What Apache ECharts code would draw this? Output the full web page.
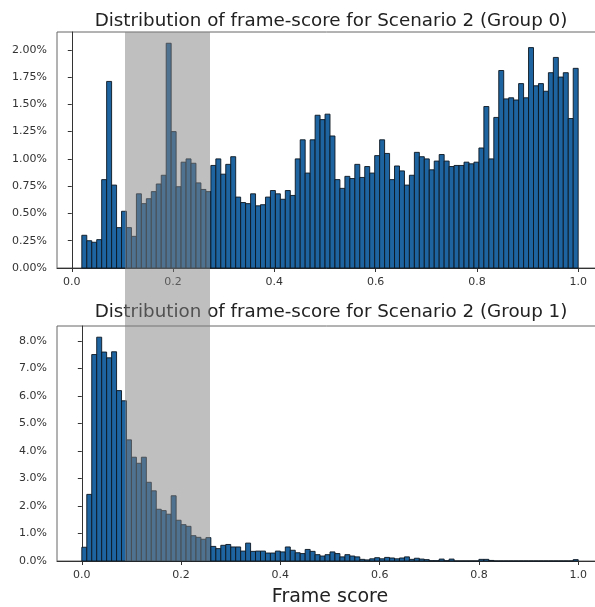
<!DOCTYPE html>
<html>
<head>
<meta charset="utf-8">
<script src="https://cdn.jsdelivr.net/npm/echarts@6/dist/echarts.min.js"></script>
<style>
html,body{margin:0;padding:0;background:#fff;}
#chart{width:595px;height:607px;}
</style>
</head>
<body>
<div id="chart"></div>
<script>
// ---- data (percent of frames per bin) ----
const titles = [
  'Distribution of frame-score for Scenario 2 (Group 0)',
  'Distribution of frame-score for Scenario 2 (Group 1)'
];
const xAxisTitle = 'Frame score';
const xTicks = [0, 0.2, 0.4, 0.6, 0.8, 1.0];
const group0YTicks = [0, 0.25, 0.5, 0.75, 1.0, 1.25, 1.5, 1.75, 2.0];
const group1YTicks = [0, 1, 2, 3, 4, 5, 6, 7, 8];
// bin range [min, max] split into 100 equal bins
const group0Range = [0.0198, 1.0];
const group1Range = [0.0, 1.0];
const group0Values = [
  0.30, 0.25, 0.236, 0.26, 0.81, 1.71, 0.76, 0.37, 0.52, 0.37,
  0.29, 0.68, 0.59, 0.635, 0.70, 0.77, 0.85, 2.06, 1.25, 0.745,
  0.97, 1.00, 0.96, 0.78, 0.72, 0.70, 0.94, 1.00, 0.86, 0.95,
  1.02, 0.65, 0.60, 0.59, 0.68, 0.57, 0.58, 0.65, 0.71, 0.68,
  0.63, 0.71, 0.665, 1.00, 1.175, 0.87, 1.175, 1.40, 1.36, 1.41,
  1.21, 0.81, 0.73, 0.84, 0.82, 0.95, 0.83, 0.93, 0.87, 1.03,
  1.175, 1.05, 0.81, 0.935, 0.89, 0.76, 0.85, 1.06, 1.02, 1.00,
  0.90, 0.98, 1.04, 0.98, 0.93, 0.94, 0.94, 0.97, 0.955, 0.97,
  1.10, 1.48, 1.00, 1.38, 1.81, 1.55, 1.56, 1.54, 1.69, 1.56,
  2.02, 1.67, 1.69, 1.62, 1.79, 1.93, 1.75, 1.79, 1.37, 1.83
];
const group1Values = [
  0.50, 2.42, 7.50, 8.13, 7.59, 7.38, 7.60, 6.19, 5.82, 4.40,
  3.77, 3.55, 3.77, 2.86, 2.55, 1.88, 1.83, 1.70, 2.37, 1.48,
  1.32, 1.26, 0.92, 0.86, 0.79, 0.85, 0.53, 0.45, 0.57, 0.60,
  0.51, 0.51, 0.36, 0.65, 0.35, 0.36, 0.36, 0.29, 0.29, 0.36,
  0.33, 0.51, 0.39, 0.30, 0.27, 0.42, 0.35, 0.23, 0.18, 0.23,
  0.33, 0.27, 0.15, 0.23, 0.18, 0.15, 0.06, 0.04, 0.08, 0.12,
  0.08, 0.13, 0.11, 0.08, 0.11, 0.15, 0.06, 0.10, 0.07, 0.05,
  0.01, 0.01, 0.07, 0.01, 0.07, 0, 0, 0, 0, 0,
  0.06, 0.06, 0.02, 0, 0, 0, 0, 0, 0, 0,
  0, 0, 0, 0, 0, 0, 0, 0, 0, 0.05
];

// ---- build bins ----
function bins(range, values) {
  const n = values.length, w = (range[1] - range[0]) / n;
  return values.map((v, i) => [range[0] + i * w, range[0] + (i + 1) * w, v]);
}
function xlim(range) {
  const m = (range[1] - range[0]) * 0.05;
  return [range[0] - m, range[1] + m];
}

const FONT = 'DejaVu Sans';
const BAR_FILL = '#1d64a0';
const BAR_EDGE = '#0c1620';

function renderBar(params, api) {
  const p0 = api.coord([api.value(0), api.value(2)]);
  const p1 = api.coord([api.value(1), 0]);
  return {
    type: 'rect',
    shape: { x: p0[0], y: p0[1], width: p1[0] - p0[0], height: p1[1] - p0[1] },
    style: { fill: BAR_FILL, stroke: BAR_EDGE, lineWidth: 0.9 }
  };
}

const grids = [
  { left: 57, top: 32, width: 546, height: 236 },
  { left: 57, top: 326, width: 546, height: 235 }
];
const titleTops = [7, 298];
const ranges = [group0Range, group1Range];
const valuesList = [group0Values, group1Values];
const yTicksList = [group0YTicks, group1YTicks];
const yDecimals = [2, 1];

const option = {
  animation: false,
  backgroundColor: '#fff',
  title: titles.map((t, i) => ({
    text: t,
    left: 326,
    textAlign: 'center',
    top: titleTops[i],
    textStyle: { fontFamily: FONT, fontSize: 18.3, fontWeight: 'normal', color: '#222' }
  })),
  grid: grids.map(g => Object.assign({
    show: true, borderColor: '#666', borderWidth: 1, outerBoundsMode: 'none', containLabel: false
  }, g)),
  xAxis: [0, 1].map(i => {
    const lim = xlim(ranges[i]);
    return {
      type: 'value', gridIndex: i, min: lim[0], max: lim[1],
      axisLine: { show: true, onZero: false, lineStyle: { color: '#333', width: 1 } },
      axisTick: { show: true, length: 4, customValues: xTicks, lineStyle: { color: '#333' } },
      axisLabel: {
        customValues: xTicks, margin: 9,
        formatter: v => v.toFixed(1),
        fontFamily: FONT, fontSize: 11, color: '#333'
      },
      splitLine: { show: false },
      name: i === 1 ? xAxisTitle : '',
      nameLocation: 'middle', nameGap: 27,
      nameTextStyle: { fontFamily: FONT, fontSize: 19, color: '#222' }
    };
  }),
  yAxis: [0, 1].map(i => ({
    type: 'value', gridIndex: i, min: 0,
    max: Math.max(...valuesList[i]) * 1.05,
    axisLine: { show: true, lineStyle: { color: '#333', width: 1 } },
    axisTick: { show: true, length: 4, customValues: yTicksList[i], lineStyle: { color: '#333' } },
    axisLabel: {
      customValues: yTicksList[i], margin: 10,
      formatter: v => v.toFixed(yDecimals[i]) + '%',
      fontFamily: FONT, fontSize: 11, color: '#333'
    },
    splitLine: { show: false }
  })),
  series: [0, 1].map(i => ({
    type: 'custom', xAxisIndex: i, yAxisIndex: i,
    renderItem: renderBar,
    encode: { x: [0, 1], y: 2 },
    data: bins(ranges[i], valuesList[i]),
    clip: false
  })),
  graphic: [{
    type: 'rect', z: 100,
    shape: { x: 125, y: 32, width: 85, height: 529 },
    style: { fill: 'rgba(128,128,128,0.5)' }
  }]
};

const chart = echarts.init(document.getElementById('chart'), null, { renderer: 'canvas' });
chart.setOption(option);
</script>
</body>
</html>
